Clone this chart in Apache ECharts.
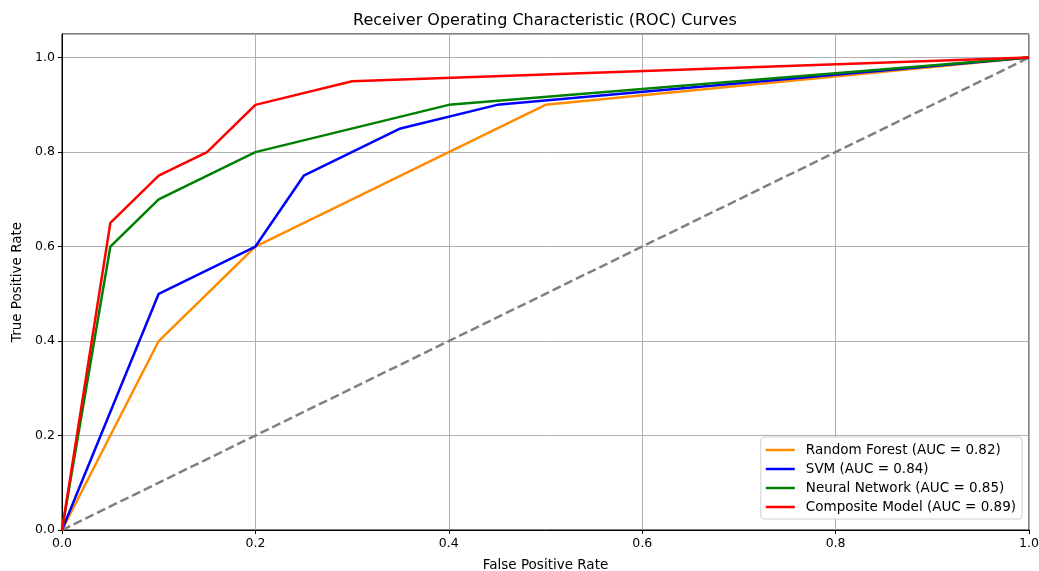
<!DOCTYPE html>
<html><head><meta charset="utf-8">
<script src="https://cdn.jsdelivr.net/npm/echarts@6/dist/echarts.min.js"></script>
<style>html,body{margin:0;padding:0;background:#fff;overflow:hidden}#c{width:1039px;height:571px}</style>
</head><body><div id="c"></div>
<script>
const seriesNames = ['Random Forest (AUC = 0.82)','SVM (AUC = 0.84)','Neural Network (AUC = 0.85)','Composite Model (AUC = 0.89)'];
const rfFpr = [0, 0.1, 0.2, 0.5, 1.0];
const rfTpr = [0, 0.4, 0.6, 0.9, 1.0];
const svmFpr = [0, 0.1, 0.2, 0.25, 0.35, 0.45, 1.0];
const svmTpr = [0, 0.5, 0.6, 0.75, 0.85, 0.9, 1.0];
const nnFpr = [0, 0.05, 0.1, 0.2, 0.4, 1.0];
const nnTpr = [0, 0.6, 0.7, 0.8, 0.9, 1.0];
const compFpr = [0, 0.05, 0.1, 0.15, 0.2, 0.3, 1.0];
const compTpr = [0, 0.65, 0.75, 0.8, 0.9, 0.95, 1.0];
const diagFpr = [0, 1];
const diagTpr = [0, 1];
const colors = ['#ff8c00','#0000ff','#008000','#ff0000'];

const zip = (a,b) => a.map((v,i)=>[v,b[i]]);
const font = 'DejaVu Sans';
const chart = echarts.init(document.getElementById('c'));
const curves = [[rfFpr,rfTpr],[svmFpr,svmTpr],[nnFpr,nnTpr],[compFpr,compTpr]];
const series = [{
  type:'line', data: zip(diagFpr, diagTpr), symbol:'none', silent:true,
  lineStyle:{color:'#808080', width:2.5, type:[9,4]}, z:2
}].concat(curves.map((c,i)=>({
  name: seriesNames[i], type:'line', data: zip(c[0], c[1]), symbol:'none',
  lineStyle:{color:colors[i], width:2.5}, itemStyle:{color:colors[i]}, z:3+i
})));
chart.setOption({
  animation:false,
  title:{text:'Receiver Operating Characteristic (ROC) Curves', left:348, top:8,
    textStyle:{fontFamily:font, fontSize:16, fontWeight:'normal', color:'#000'}},
  grid:{left:62, right:10, top:34, bottom:41, show:true, borderColor:'#000', borderWidth:1,
    containLabel:false, outerBoundsMode:'none'},
  legend:{
    data: seriesNames.map((n,i)=>({name:n, icon:'rect', itemStyle:{color:colors[i]}})),
    orient:'vertical', right:17, bottom:52, itemWidth:29, itemHeight:2.5, itemGap:5,
    backgroundColor:'#fff', borderColor:'#d0d0d0', borderWidth:1, borderRadius:3,
    padding:[6,6,5,5],
    textStyle:{fontFamily:font, fontSize:13.5, color:'#000', padding:[0,0,0,6]}
  },
  xAxis:{type:'value', min:0, max:1, interval:0.2, name:'False Positive Rate',
    nameLocation:'middle', nameGap:28, nameTextStyle:{fontFamily:font, fontSize:13.5, color:'#000'},
    axisLine:{show:true, lineStyle:{color:'#000'}}, axisTick:{show:true, length:4, lineStyle:{color:'#000'}},
    axisLabel:{fontFamily:font, fontSize:12.5, color:'#000', margin:7, formatter:v=>v.toFixed(1)},
    splitLine:{show:true, lineStyle:{color:'#b0b0b0', width:1}}},
  yAxis:{type:'value', min:0, max:1.05, interval:0.2, name:'True Positive Rate',
    nameLocation:'middle', nameGap:37, nameTextStyle:{fontFamily:font, fontSize:13.5, color:'#000'},
    axisLine:{show:true, lineStyle:{color:'#000'}}, axisTick:{show:true, length:4, lineStyle:{color:'#000'}},
    axisLabel:{fontFamily:font, fontSize:12.5, color:'#000', margin:7, showMaxLabel:false, formatter:v=>v.toFixed(1)},
    splitLine:{show:true, lineStyle:{color:'#b0b0b0', width:1}}},
  series: series
});
</script></body></html>
